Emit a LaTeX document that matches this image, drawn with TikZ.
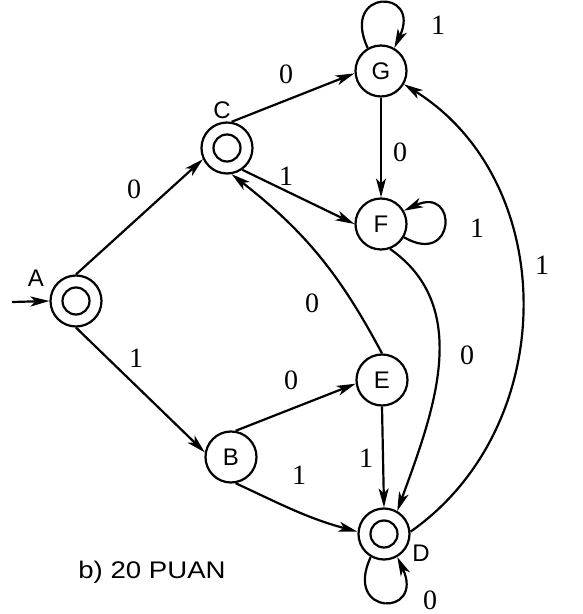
\documentclass[tikz,border=0pt]{standalone}
\usepackage{fontspec}
\setmainfont{Liberation Serif}
\newfontfamily\lsans{Liberation Sans}
\usetikzlibrary{arrows.meta}
\begin{document}
\begin{tikzpicture}[x=1pt,y=1pt,
  state/.style={circle,draw,line width=2.2pt,minimum size=51pt,inner sep=0pt,font=\lsans\fontsize{24}{24}\selectfont},
  accept/.style={state,path picture={\draw[line width=2.2pt] (path picture bounding box.center) circle[radius=13.5pt];}},
  edge/.style={line width=2.2pt,-{Stealth[length=19pt,width=10pt,inset=5pt]}},
  lbl/.style={font=\fontsize{28}{28}\selectfont,inner sep=0pt},
  tag/.style={font=\lsans\fontsize{24}{24}\selectfont,inner sep=0pt}]
\fill[white] (0,0) rectangle (582,614);
\useasboundingbox (0,0) rectangle (582,614);
\node[accept] (A) at (76,313) {};
\node[accept] (C) at (227,466) {};
\node[state] (G) at (381,543) {G};
\node[state] (F) at (381,390) {F};
\node[state] (E) at (382,234) {E};
\node[state] (B) at (231,157) {B};
\node[accept] (D) at (384,80) {};
\node[tag] (la) at (36,336) {A};
\node[tag] (lc) at (222,504) {C};
\node[tag] (ld) at (421,61) {D};
\coordinate (s) at (12,312);
\draw[edge] (s) -- (A.west);
\draw[edge] (A.north) -- (C.205);
\draw[edge] (A.south) -- (B.170);
\draw[edge] (C.80) -- (G.185);
\draw[edge] (C.-55) -- (F.west);
\draw[edge] (E.north) to[bend right=12] (C.-80);
\draw[edge] (G.south) -- (F.north);
\draw[edge] (F.-70) to[out=-35,in=70] (D.60);
\draw[edge] (B.80) -- (E.188);
\draw[edge] (B.-80) to[out=-25,in=165] (D.175);
\draw[edge] (E.south) -- (D.north);
\draw[edge] (D.5) to[out=35,in=-32,looseness=1.05] (G.-30);
\draw[edge] (G.120) to[out=115,in=65,distance=66pt] (G.60);
\draw[edge] (F.-30) to[out=-30,in=25,distance=60pt] (F.30);
\draw[edge] (D.-120) to[out=-115,in=-65,distance=66pt] (D.-60);
\node[lbl] (l1) at (134,425) {0};
\node[lbl] (l2) at (136,256) {1};
\node[lbl] (l3) at (286,540) {0};
\node[lbl] (l4) at (286,438) {1};
\node[lbl] (l5) at (312,311) {0};
\node[lbl] (l6) at (400,462) {0};
\node[lbl] (l7) at (467,259) {0};
\node[lbl] (l8) at (291,234) {0};
\node[lbl] (l9) at (299,139) {1};
\node[lbl] (l10) at (366,156) {1};
\node[lbl] (l11) at (542,349) {1};
\node[lbl] (l12) at (438,589) {1};
\node[lbl] (l13) at (477,386) {1};
\node[lbl] (l14) at (430,14) {0};
\node[tag] (title) at (152,42) {\scalebox{1.15}[1]{b) 20 PUAN}};
\end{tikzpicture}
\end{document}
